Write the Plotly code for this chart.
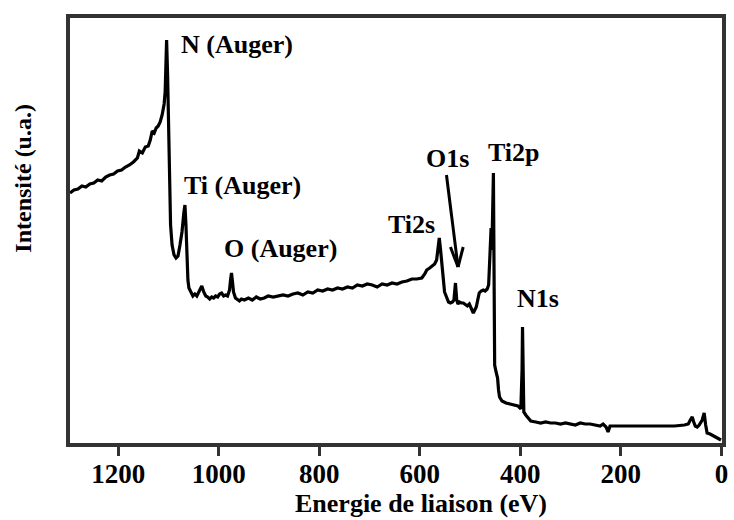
import plotly.graph_objects as go

# XPS survey spectrum of a titanium nitride film (binding energy in eV, intensity in a.u.)
binding_energy = [
    1296.0, 1288.1, 1280.2, 1272.3, 1264.5, 1256.6, 1248.7, 1240.8, 1232.9, 1225.0,
    1217.1, 1209.3, 1201.4, 1193.5, 1185.6, 1177.7, 1169.8, 1161.9, 1158.0, 1152.1,
    1146.2, 1140.3, 1136.3, 1132.4, 1128.4, 1124.5, 1120.5, 1116.6, 1112.7, 1108.7,
    1106.7, 1104.8, 1103.8, 1101.8, 1099.8, 1097.9, 1095.9, 1092.9, 1089.0, 1085.1,
    1081.1, 1077.2, 1073.2, 1069.3, 1067.3, 1065.3, 1063.4, 1061.4, 1059.4, 1055.5,
    1051.5, 1047.6, 1043.7, 1039.7, 1035.8, 1033.8, 1029.9, 1025.9, 1022.0, 1018.0,
    1014.1, 1010.2, 1006.2, 1002.2, 998.3, 994.4, 990.4, 986.5, 982.5, 978.6,
    976.6, 974.7, 972.7, 970.7, 966.8, 962.8, 958.9, 954.9, 949.0, 941.1,
    933.3, 925.4, 917.5, 909.6, 901.7, 891.9, 882.0, 872.1, 862.3, 852.4,
    842.6, 832.7, 822.9, 813.0, 803.1, 793.3, 783.4, 773.6, 763.7, 753.9,
    744.0, 734.1, 724.3, 714.4, 704.6, 694.7, 684.9, 675.0, 665.1, 655.3,
    645.4, 635.6, 625.7, 615.9, 606.0, 596.1, 590.2, 586.3, 580.4, 574.5,
    570.5, 566.6, 563.6, 561.3, 558.7, 556.7, 554.7, 552.8, 550.8, 546.9,
    542.9, 539.0, 535.0, 532.1, 529.1, 526.6, 524.2, 521.2, 517.3, 513.4,
    509.4, 505.5, 501.5, 497.6, 493.6, 490.7, 487.7, 484.8, 481.8, 477.9,
    473.9, 470.0, 466.0, 463.1, 461.1, 459.7, 458.2, 456.6, 455.2, 453.6,
    452.6, 451.9, 451.1, 448.3, 445.3, 443.4, 441.4, 436.5, 428.6, 420.7,
    412.8, 404.9, 399.0, 396.6, 395.7, 394.5, 393.1, 389.2, 385.2, 379.3,
    369.4, 359.6, 349.7, 339.9, 330.0, 320.2, 310.3, 300.4, 290.6, 280.7,
    270.9, 261.0, 251.2, 241.3, 235.4, 229.5, 225.5, 221.6, 211.7, 201.9,
    192.0, 172.3, 152.6, 132.9, 113.2, 93.4, 73.7, 65.8, 61.9, 58.0,
    55.0, 52.0, 48.1, 44.2, 38.2, 34.3, 31.3, 28.4, 22.5, 14.6,
    6.7, 0.8,
]

intensity = [
    252, 255, 256, 259, 258, 261, 262, 265, 264, 268,
    270, 271, 274, 275, 278, 280, 283, 287, 294, 292,
    298, 299, 305, 314, 312, 317, 319, 323, 330, 341,
    353, 375, 405, 370, 315, 255, 220, 200, 190, 187,
    189, 200, 213, 233, 240, 220, 185, 165, 157, 153,
    149, 151, 149, 153, 156, 159, 153, 149, 148, 146,
    148, 147, 149, 148, 151, 152, 149, 150, 149, 155,
    165, 172, 163, 153, 147, 145, 144, 146, 145, 147,
    145, 148, 146, 147, 149, 148, 149, 150, 149, 151,
    152, 150, 153, 152, 155, 154, 156, 155, 157, 156,
    158, 157, 160, 159, 161, 160, 158, 161, 160, 162,
    161, 163, 164, 166, 166, 167, 171, 175, 177, 180,
    181, 185, 195, 207, 195, 183, 170, 160, 153, 148,
    143, 142, 143, 145, 162, 145, 141, 143, 142, 142,
    140, 139, 141, 136, 132, 135, 138, 145, 152, 154,
    155, 154, 156, 160, 185, 213, 217, 195, 225, 272,
    195, 115, 80, 73, 67, 55, 48, 44, 42, 41,
    40, 39, 36, 75, 118, 65, 33, 30, 27, 24,
    23, 22, 23, 22, 22, 21, 22, 21, 20, 22,
    21, 21, 20, 19, 21, 18, 13, 19, 19, 19,
    19, 19, 19, 19, 19, 19, 20, 21, 25, 28,
    23, 19, 18, 20, 25, 32, 20, 12, 11, 9,
    7, 5,
]

# Peak assignments: (text, binding energy of text's left edge, intensity)
peak_labels = ["N (Auger)", "Ti (Auger)", "O (Auger)", "Ti2s", "O1s", "Ti2p", "N1s"]
label_energy = [1079, 1073, 994, 667, 592, 468, 411]
label_intensity = [401, 260, 197, 221, 287, 293, 147]

# Arrow pointing at the weak O1s line
arrow_tail = (547, 270)
arrow_tip = (524, 178)
arrow_wings = [(539, 198), (513.7, 198)]

x_ticks = [1200, 1000, 800, 600, 400, 200, 0]

SERIF = "Liberation Serif, Times New Roman, serif"
FRAME = "#333333"

fig = go.Figure()
fig.add_trace(go.Scatter(
    x=binding_energy, y=intensity, mode="lines",
    line=dict(color="black", width=3.2), showlegend=False,
))

for text, xe, yi in zip(peak_labels, label_energy, label_intensity):
    fig.add_annotation(
        x=xe, y=yi, xref="x", yref="y", text=text, showarrow=False,
        xanchor="left", yanchor="middle",
        font=dict(family=SERIF, size=26, color="black", weight="bold"),
    )

fig.add_shape(type="line", xref="x", yref="y",
              x0=arrow_tail[0], y0=arrow_tail[1], x1=arrow_tip[0], y1=arrow_tip[1],
              line=dict(color="black", width=3))
for wx, wy in arrow_wings:
    fig.add_shape(type="line", xref="x", yref="y",
                  x0=wx, y0=wy, x1=arrow_tip[0], y1=arrow_tip[1],
                  line=dict(color="black", width=3))

fig.add_annotation(
    x=0.538, y=-0.142, xref="paper", yref="paper", text="Energie de liaison (eV)",
    showarrow=False, xanchor="center", yanchor="middle",
    font=dict(family=SERIF, size=26, color="black", weight="bold"),
)
fig.add_annotation(
    x=-0.072, y=0.622, xref="paper", yref="paper", text="Intensité (u.a.)",
    showarrow=False, xanchor="center", yanchor="middle", textangle=-90,
    font=dict(family=SERIF, size=24, color="black", weight="bold"),
)

fig.update_xaxes(
    range=[1296, -1.2], tickvals=x_ticks, ticktext=[str(v) for v in x_ticks],
    ticks="outside", ticklen=9, tickwidth=3, tickcolor=FRAME,
    ticklabelstandoff=-5,
    showline=True, linewidth=4, linecolor=FRAME, mirror=True,
    showgrid=False, zeroline=False,
    tickfont=dict(family=SERIF, size=27, color="black", weight="bold"),
)
fig.update_yaxes(
    range=[2, 427], showticklabels=False, ticks="",
    showline=True, linewidth=4, linecolor=FRAME, mirror=True,
    showgrid=False, zeroline=False,
)
fig.update_layout(
    width=734, height=520,
    margin=dict(l=70, r=6, t=18, b=77),
    plot_bgcolor="white", paper_bgcolor="white",
)

fig.write_html("out.html")
